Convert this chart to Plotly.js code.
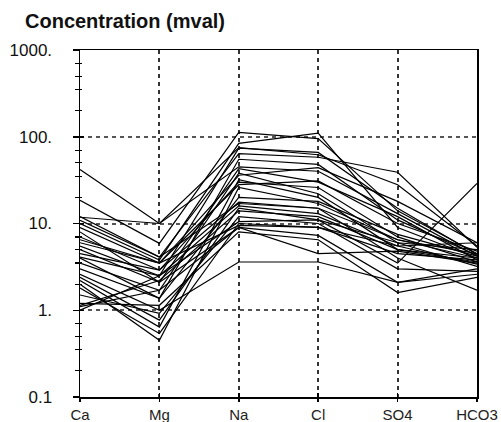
<!DOCTYPE html>
<html>
<head>
<meta charset="utf-8">
<script src="https://cdn.plot.ly/plotly-3.0.1.min.js"></script>
<style>html,body{margin:0;padding:0;background:#fff;}#chart{width:501px;height:422px;}</style>
</head>
<body>
<div id="chart"></div>
<script>
// Ion categories (Schoeller diagram)
const ions = ["Ca", "Mg", "Na", "Cl", "SO4", "HCO3"];
// Concentrations (mval) per sample, one array per ion
const ca   = [42, 18.5, 11.8, 10.9, 10, 9, 7, 6.5, 5.5, 5, 4.5, 4.1, 3.5, 3, 2.4, 2.2, 2.0, 1.8, 1.5, 1.14, 1.1, 1.2, 1.0, 6, 12, 2.6, 8, 4];
const mg   = [10, 5.9, 10, 4.1, 3.8, 3.5, 2.9, 3.5, 2.5, 2.1, 2.9, 2.5, 1.7, 1.37, 0.77, 0.64, 0.45, 0.54, 0.92, 2.2, 1.7, 1.14, 2.5, 3.5, 4.1, 1.0, 2.1, 1.37];
const na   = [75, 112, 45, 64, 84, 36, 30, 28, 74, 43, 17.6, 16, 38, 20, 15, 32, 26, 10, 12, 14, 9, 8, 10.5, 9.5, 17, 3.6, 9, 55];
const cl   = [62, 95, 40, 58, 110, 44, 26, 31, 66, 30, 15, 13, 22, 18, 11, 20, 17, 9, 10, 12, 7.3, 6.5, 11, 9, 15, 3.6, 4.5, 48];
const so4  = [28, 14, 13, 39, 9, 18, 7, 10, 15, 12, 6.5, 5.5, 6, 7.5, 3.5, 5, 6.5, 4.5, 3, 5, 2.1, 1.6, 6, 5.5, 4, 2.1, 4.8, 11];
const hco3 = [5.5, 4.5, 4.2, 5.3, 4, 6, 3.6, 4.8, 4.4, 3.8, 4, 3.4, 3.2, 4.2, 29, 3.6, 4.5, 3.8, 2.8, 4, 2.6, 2.4, 5, 6, 1.7, 3, 3.5, 4.3];
const yTickVals = [0.1, 1, 10, 100, 1000];
const yTickText = ["0.1", "1.", "10.", "100.", "1000."];
const yMinorVals = [0.2, 0.35, 0.5, 0.7, 2, 3.5, 5, 7, 20, 35, 50, 70, 200, 350, 500, 700];

const xIdx = ions.map((_, i) => i);
const traces = ca.map((_, k) => ({
  type: "scatter",
  mode: "lines",
  x: xIdx,
  y: [ca[k], mg[k], na[k], cl[k], so4[k], hco3[k]],
  line: {color: "#000", width: 1.2},
  hoverinfo: "skip",
  showlegend: false
}));
// invisible trace to drive overlay axes (inner half of crossing ticks)
traces.push({type: "scatter", mode: "lines", x: [0], y: [1], xaxis: "x2", yaxis: "y2",
  line: {color: "rgba(0,0,0,0)"}, showlegend: false, hoverinfo: "skip"});

const layout = {
  width: 501, height: 422,
  margin: {l: 80, r: 24, t: 50, b: 25},
  paper_bgcolor: "#fff", plot_bgcolor: "#fff",
  font: {family: "Liberation Sans, Arial, sans-serif", color: "#000"},
  title: {text: "<b>Concentration (mval)</b>", x: 25 / 501, xref: "container", xanchor: "left",
          y: 1 - 21 / 422, yref: "container", yanchor: "middle", font: {size: 20, color: "#111"}},
  xaxis: {
    range: [0, 5], tickmode: "array", tickvals: xIdx, ticktext: ions,
    showline: true, mirror: true, linecolor: "#000", linewidth: 1.5,
    showgrid: true, gridcolor: "#333", gridwidth: 2, griddash: "4px,4px",
    ticks: "outside", ticklen: 3, tickcolor: "#000", tickwidth: 1.5,
    tickfont: {size: 15, color: "#222"}, zeroline: false, fixedrange: true
  },
  yaxis: {
    type: "log", range: [-1, 3], tickmode: "array", tickvals: yTickVals, ticktext: yTickText,
    showline: true, mirror: true, linecolor: "#000", linewidth: 1.5,
    showgrid: true, gridcolor: "#555", gridwidth: 2, griddash: "4px,4px",
    ticks: "outside", ticklen: 6, tickcolor: "#000", tickwidth: 1.5,
    ticklabelstandoff: 17,
    minor: {tickmode: "array", tickvals: yMinorVals, ticks: "outside", ticklen: 4, tickcolor: "#000", tickwidth: 1.2, showgrid: false},
    tickfont: {size: 17, color: "#111"}, zeroline: false, fixedrange: true
  },
  xaxis2: {overlaying: "x", range: [0, 5], tickmode: "array", tickvals: xIdx, showticklabels: false,
    ticks: "inside", ticklen: 4, tickcolor: "#000", tickwidth: 1.5, showgrid: false, zeroline: false, showline: false},
  yaxis2: {overlaying: "y", type: "log", range: [-1, 3], tickmode: "array", tickvals: yTickVals,
    showticklabels: false, ticks: "inside", ticklen: 4, tickcolor: "#000", tickwidth: 1.5,
    minor: {tickmode: "array", tickvals: yMinorVals, ticks: "inside", ticklen: 2, tickcolor: "#000", tickwidth: 1.2, showgrid: false},
    showgrid: false, zeroline: false, showline: false}
};

Plotly.newPlot("chart", traces, layout, {staticPlot: true, displayModeBar: false});
</script>
</body>
</html>
